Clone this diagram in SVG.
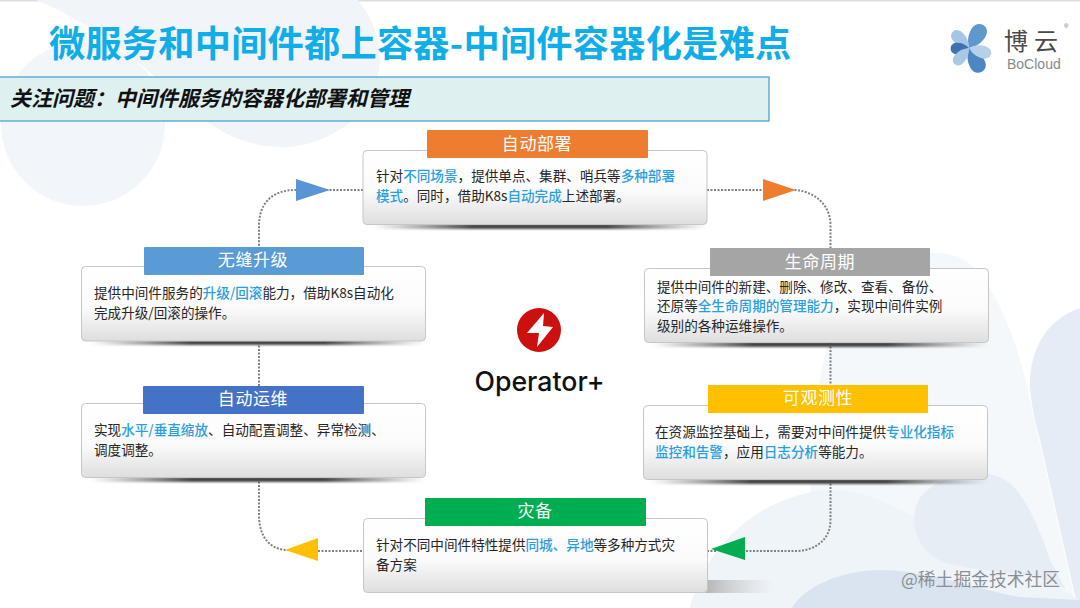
<svg xmlns="http://www.w3.org/2000/svg" width="1080" height="608" viewBox="0 0 1080 608">
<style>
text{font-family:"Noto Sans CJK SC","Liberation Sans",sans-serif}
.card{fill:url(#cg);stroke:#c6c6c6;stroke-width:1}
.t{font-size:13.6px;fill:#262626}
.b{fill:#2a9fe0;font-weight:500}
.h{font-size:17px;fill:#fff;text-anchor:middle;letter-spacing:.6px}
.c{fill:none;stroke:#808080;stroke-width:2;stroke-dasharray:2 1.5}
.sh{fill:url(#sg);filter:url(#bl)}
</style>
<defs>
<linearGradient id="cg" x1="0" y1="0" x2="0" y2="1"><stop offset="0" stop-color="#fff"/><stop offset=".55" stop-color="#fbfbfb"/><stop offset="1" stop-color="#dedede"/></linearGradient>
<linearGradient id="sg" x1="0" y1="0" x2="1" y2="0"><stop offset="0" stop-color="#666" stop-opacity="0"/><stop offset=".3" stop-color="#444"/><stop offset=".7" stop-color="#444"/><stop offset="1" stop-color="#666" stop-opacity="0"/></linearGradient>
<linearGradient id="sg2" x1="0" y1="0" x2="1" y2="0"><stop offset="0" stop-color="#b4b4b4"/><stop offset="1" stop-color="#ccc" stop-opacity="0"/></linearGradient>
<filter id="bl" x="-10%" y="-100%" width="120%" height="300%"><feGaussianBlur stdDeviation="1.1"/></filter>
<path id="petal" d="M0 0C5 -5 10 -8 18 -8C24 -8 27 -4 27 0C27 4 24 8 18 8C10 8 5 5 0 0Z"/>
</defs>
<rect width="1080" height="608" fill="#fff"/>
<rect width="1080" height="1.500" fill="#ddd"/>
<g id="background">
<circle cx="83" cy="124" r="82" fill="#f2f6fa"/>
<path d="M36 0H358C375 20 384 50 378 75C368 120 325 147 282 147C250 147 225 135 205 120C170 90 110 30 36 0Z" fill="#f1f4f9"/>
<path d="M860 268C900 250 950 248 968 262C1000 290 1020 350 1030 400L1075 600V608H820C800 500 810 340 860 268Z" fill="#f5f8fb"/>
<path d="M1080 308C1050 318 1030 345 1030 385C1030 400 1035 420 1040 440L1076 600H1080Z" fill="#e5ecf5"/>
<path d="M690 608C705 540 770 490 835 490C880 490 930 530 1013 563C1040 574 1065 590 1078 600V608Z" fill="#eff4f9"/>
<path d="M920 497C940 475 980 465 1005 480C1025 492 1040 530 1050 560L1066 590C1040 570 990 575 947 563C920 555 905 525 920 497Z" fill="#e7edf5"/>
<path d="M792 608C805 585 845 570 880 570C925 570 980 590 1020 597L1080 600V608Z" fill="#dae4f0"/>
</g>
<text x="49" y="57" font-size="36.2" letter-spacing=".25" font-weight="700" fill="#10aee8">微服务和中间件都上容器-中间件容器化是难点</text>
<g id="logo">
<use href="#petal" fill="#5f97cf" transform="translate(969 48) rotate(-58)"/>
<use href="#petal" fill="#4d86c2" transform="translate(969 48) rotate(62)"/>
<use href="#petal" fill="#b4d0ea" transform="translate(969 48) rotate(16) scale(.85 .78)"/>
<use href="#petal" fill="#a6c6e6" transform="translate(969 48) rotate(-135) scale(.85 .78)"/>
<use href="#petal" fill="#3f72ae" transform="translate(969 48) rotate(178) scale(.68 .72)"/>
<use href="#petal" fill="#a9c8e6" transform="translate(969 48) rotate(132) scale(.8 .72)"/>
<text x="1004" y="50" font-size="24" fill="#4a4a4a" letter-spacing="6">博云</text>
<text x="1064" y="28" font-size="6" fill="#666" style="font-family:'Liberation Sans',sans-serif">®</text>
<text x="1007" y="69" font-size="14" fill="#888" style="font-family:'Liberation Sans',sans-serif">BoCloud</text>
</g>
<g id="banner"><rect x="-2" y="77" width="771" height="44" fill="#dff0f1" stroke="#4fa3cf" stroke-width="1.300"/>
<text x="10" y="106" font-size="21" font-weight="700" font-style="italic" fill="#111">关注问题：中间件服务的容器化部署和管理</text></g>
<g id="connectors">
<path class="c" d="M363 190H296C272 190 259 203 259 226V248"/>
<path class="c" d="M259 342V386"/>
<path class="c" d="M259 478V515C259 537 270 550 288 550"/>
<path class="c" d="M318 551H363"/>
<path class="c" d="M707 190H796C815 192 830.500 205 830.500 225V248"/>
<path class="c" d="M830.500 343V385"/>
<path class="c" d="M830.500 480V520C830.500 540 815 551 795 551H745"/>
<path class="c" d="M707 551H716"/>
<polygon points="296,179 296,201 330,190" fill="#5a93d6"/>
<polygon points="763,179 763,201 796,190" fill="#ed7d31"/>
<polygon points="318,538 318,561 285,550" fill="#ffc000"/>
<polygon points="745,537 745,560 711,549" fill="#00ad50"/>
</g>
<g id="center"><circle cx="539" cy="330" r="22" fill="#cc0f0f"/>
<polygon points="544,313 527,333 539,333 537,347 553,327 543,326" fill="#fff"/>
<text x="539.500" y="391" font-size="26.700" font-weight="500" fill="#111" text-anchor="middle" style="font-family:Inter,sans-serif">Operator+</text></g>
<g id="deploy"><rect class="sh" x="372" y="224" width="335" height="5"/><rect class="card" x="363" y="150.500" width="344" height="74" rx="4"/><rect x="427" y="130" width="221" height="28" rx="1" fill="#ed7d31"/><text class="h" x="537" y="150">自动部署</text>
<text class="t" x="376" y="181">针对<tspan class="b">不同场景</tspan>，提供单点、集群、哨兵等<tspan class="b">多种部署</tspan></text><text class="t" x="376" y="201"><tspan class="b">模式</tspan>。同时，借助K8s<tspan class="b">自动完成</tspan>上述部署。</text></g>
<g id="upgrade"><rect class="sh" x="90" y="340" width="335" height="5"/><rect class="card" x="81.500" y="266.500" width="344" height="74.500" rx="4"/><rect x="144" y="247" width="220" height="28" rx="1" fill="#5b9bd5"/><text class="h" x="253" y="266">无缝升级</text>
<text class="t" x="94" y="298">提供中间件服务的<tspan class="b">升级/回滚</tspan>能力，借助K8s自动化</text><text class="t" x="94" y="318">完成升级/回滚的操作。</text></g>
<g id="ops"><rect class="sh" x="90" y="477" width="335" height="5"/><rect class="card" x="81.500" y="403.500" width="344" height="74" rx="4"/><rect x="143" y="386" width="221" height="28" rx="1" fill="#4472c4"/><text class="h" x="253" y="405">自动运维</text>
<text class="t" x="94" y="435">实现<tspan class="b">水平/垂直缩放</tspan>、自动配置调整、异常检测、</text><text class="t" x="94" y="455">调度调整。</text></g>
<g id="lifecycle"><rect class="sh" x="652" y="342" width="336" height="5"/><rect class="card" x="644.500" y="268.500" width="344" height="74" rx="4"/><rect x="710" y="248" width="220" height="28" fill="#a5a5a5"/><text class="h" x="820" y="268">生命周期</text>
<text class="t" x="657" y="292">提供中间件的新建、删除、修改、查看、备份、</text><text class="t" x="657" y="311">还原等<tspan class="b">全生命周期的管理能力</tspan>，实现中间件实例</text><text class="t" x="657" y="331">级别的各种运维操作。</text></g>
<g id="observe"><rect class="sh" x="650" y="479" width="337" height="5"/><rect class="card" x="643.500" y="405.500" width="344" height="74" rx="4"/><rect x="708" y="385" width="220" height="28" fill="#ffc000"/><text class="h" x="818" y="404">可观测性</text>
<text class="t" x="655" y="437">在资源监控基础上，需要对中间件提供<tspan class="b">专业化指标</tspan></text><text class="t" x="655" y="457"><tspan class="b">监控和告警</tspan>，应用<tspan class="b">日志分析</tspan>等能力。</text></g>
<g id="dr"><rect x="705" y="580" width="68" height="13" fill="url(#sg2)"/><rect class="card" x="363.500" y="518.500" width="344" height="74" rx="4"/><rect x="425" y="498" width="221" height="28" rx="1" fill="#00ad50"/><text class="h" x="535" y="517">灾备</text>
<text class="t" x="376" y="550">针对不同中间件特性提供<tspan class="b">同城、异地</tspan>等多种方式灾</text><text class="t" x="376" y="570">备方案</text></g>
<text x="901" y="586" font-size="17.800" fill="#8a8f96">@稀土掘金技术社区</text>
</svg>
